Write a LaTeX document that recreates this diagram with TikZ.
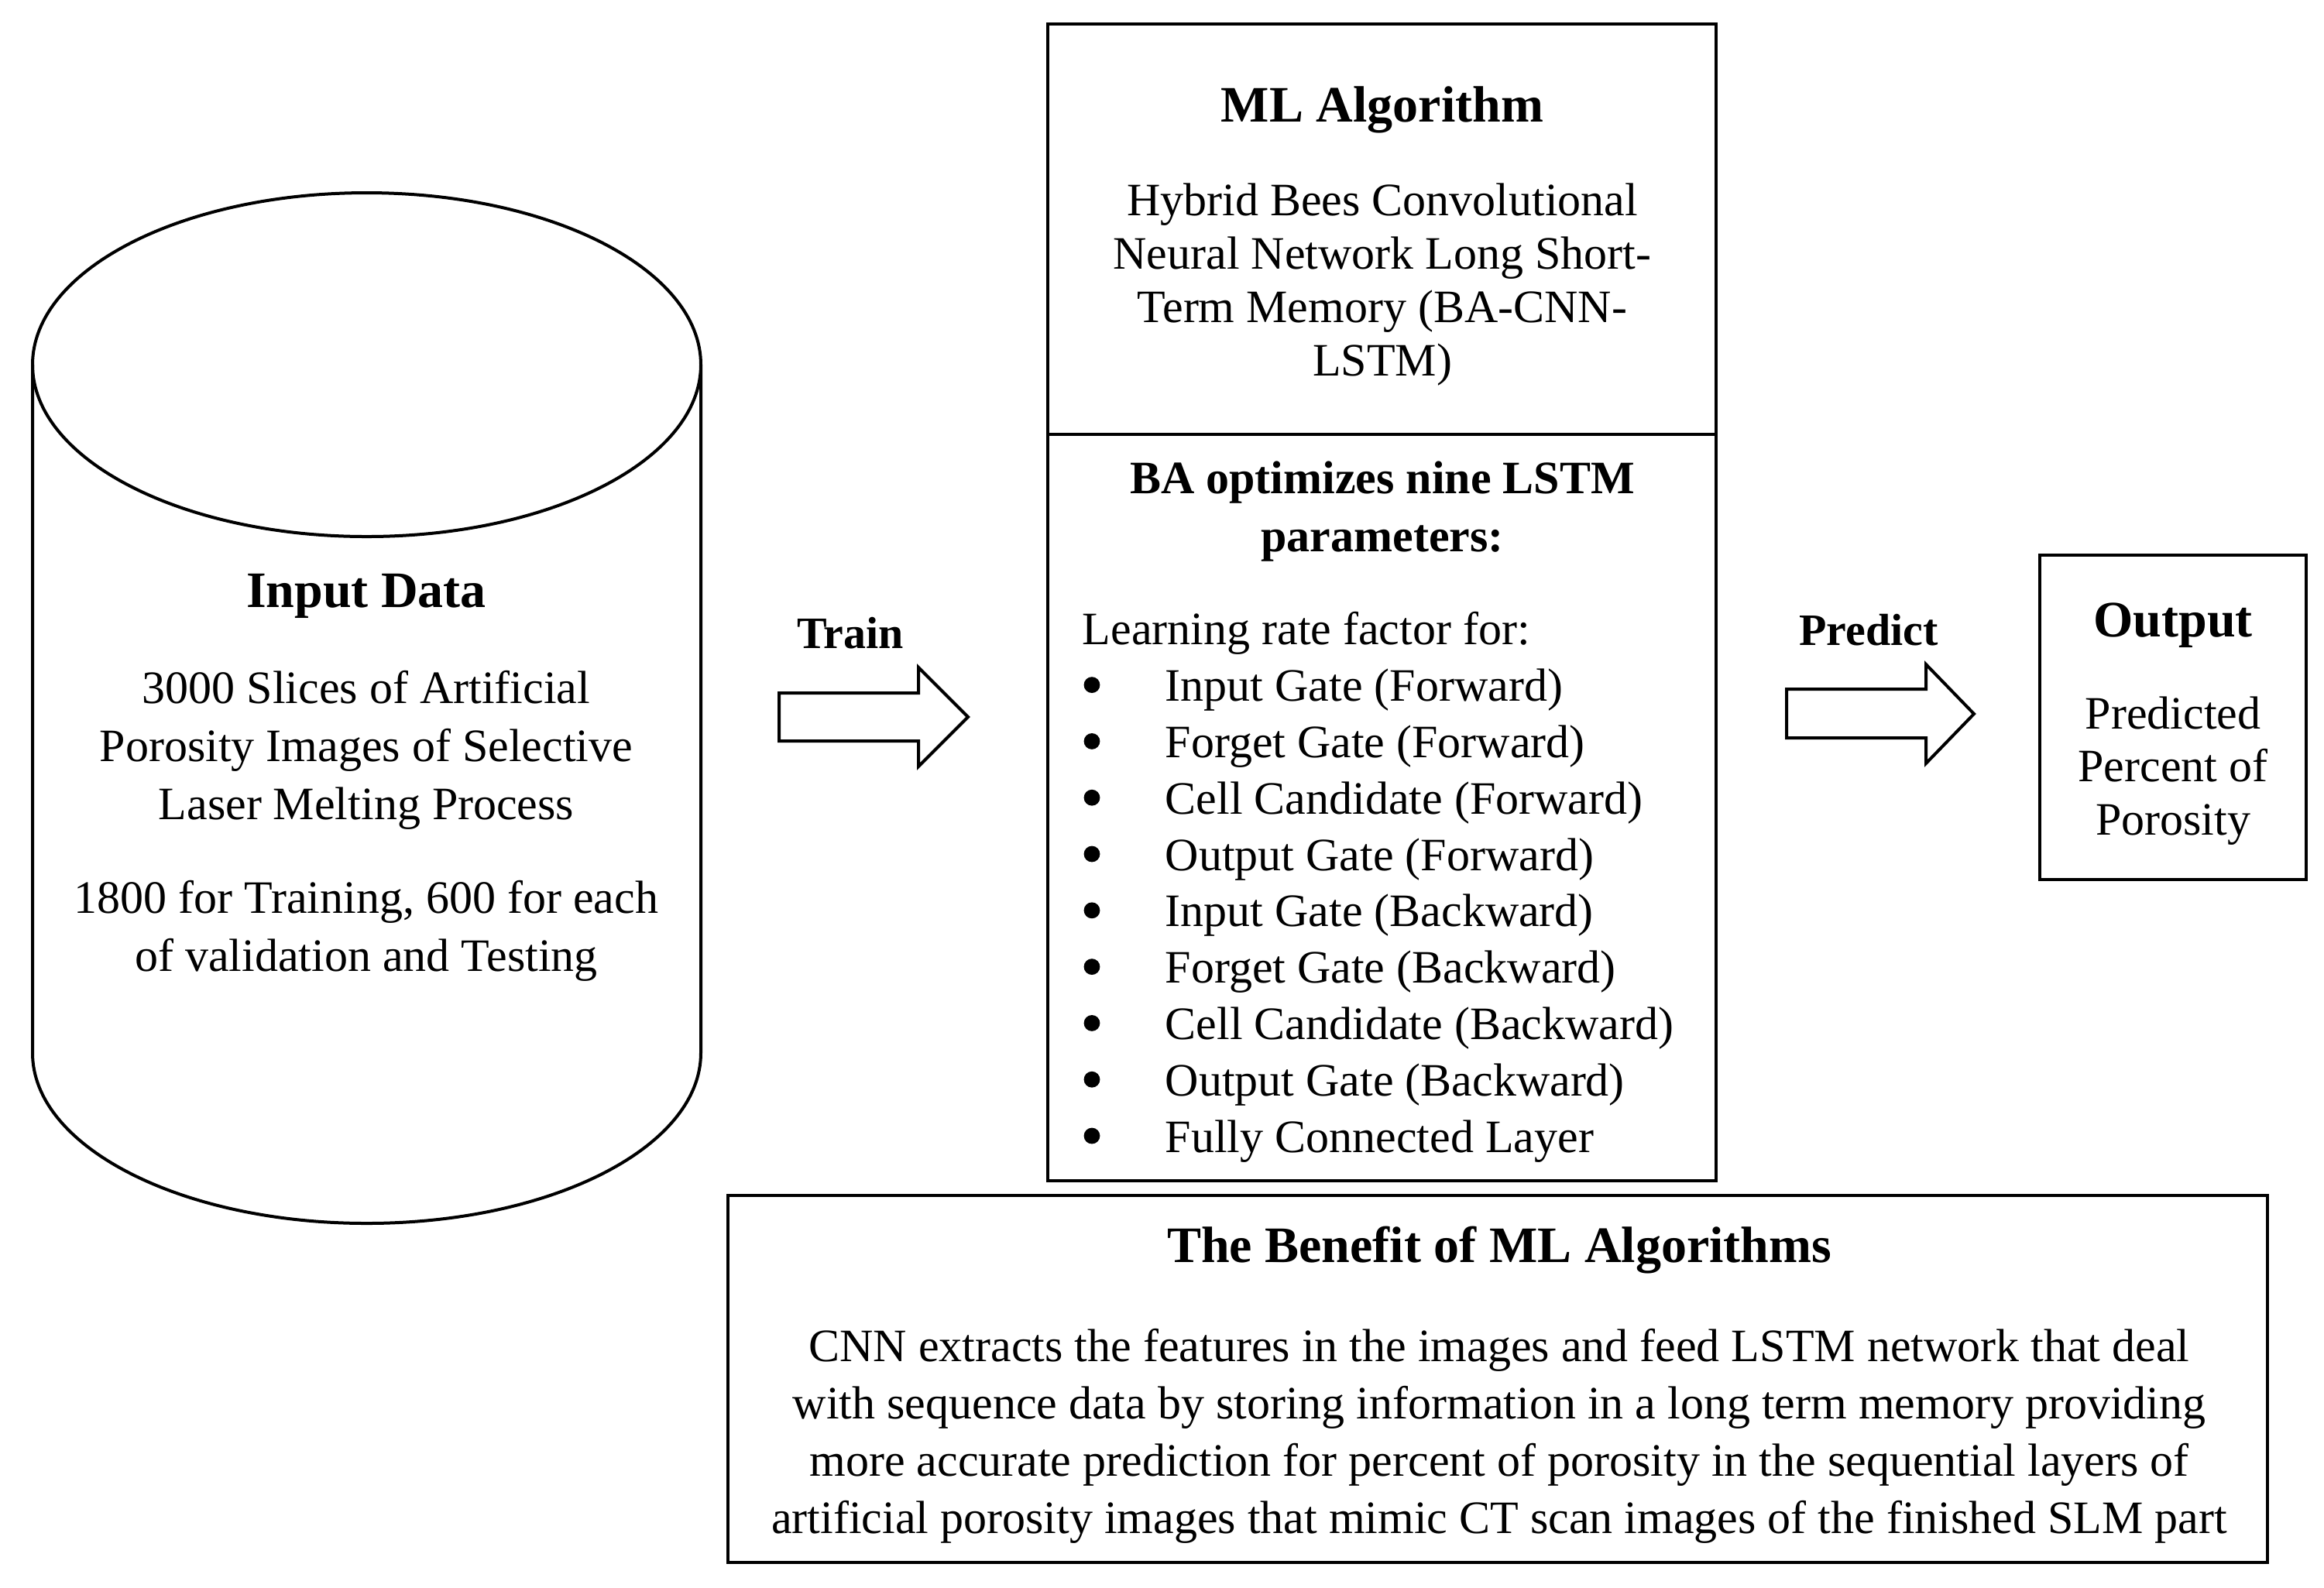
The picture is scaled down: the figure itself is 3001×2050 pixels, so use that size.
\documentclass[tikz,border=0pt]{standalone}
\usepackage{fontspec}
\setmainfont{Liberation Serif}
\newcommand{\bul}{\hspace*{26.75pt}}
\begin{document}
\begin{tikzpicture}[x=0.25pt,y=-0.25pt,
  box/.style={draw, line width=1pt, inner sep=0pt, outer sep=0pt},
  shapeline/.style={line width=1pt, line join=miter},
  dot/.style={fill=black},
  head/.style={font=\fontsize{16.5}{20}\selectfont\bfseries, inner sep=0pt, anchor=base},
  lbl/.style={font=\fontsize{14.5}{17}\selectfont\bfseries, inner sep=0pt, anchor=base},
  txt/.style={inner sep=0pt, anchor=base, align=center}
]
\useasboundingbox (0,0) rectangle (3001,2050);

% cylinder (input data store)
\draw[shapeline] (473.5,471) ellipse [x radius=107.875pt, y radius=55.5pt];
\draw[shapeline] (42,471) -- (42,1360) arc[start angle=180, end angle=360, x radius=107.875pt, y radius=55pt] -- (905,471);

% boxes
\node[box, anchor=north west, minimum width=215.75pt, minimum height=132.5pt] (mltop) at (1353,31) {};
\node[box, anchor=north west, minimum width=215.75pt, minimum height=241pt] (mlbot) at (1353,561) {};
\node[box, anchor=north west, minimum width=86pt, minimum height=104.75pt] (outbox) at (2634,717) {};
\node[box, anchor=north west, minimum width=497pt, minimum height=118.5pt] (benbox) at (940,1544) {};

% block arrows
\draw[shapeline] (1006,895) -- (1186,895) -- (1186,862) -- (1250,926) -- (1186,990) -- (1186,957) -- (1006,957) -- cycle;
\draw[shapeline] (2307,890) -- (2487,890) -- (2487,858) -- (2549,922) -- (2487,986) -- (2487,953) -- (2307,953) -- cycle;

% texts (anchor base = baseline of the last line)
\node[head] (inhead) at (473,784) {Input Data};
\node[txt, font=\fontsize{15}{18.75}\selectfont] (intext) at (473,1058) {3000 Slices of Artificial\\Porosity Images of Selective\\Laser Melting Process};
\node[txt, font=\fontsize{15}{18.75}\selectfont] (insplit) at (473,1254) {1800 for Training, 600 for each\\of validation and Testing};

\node[lbl] (trainlbl) at (1098,837) {Train};
\node[lbl] (predlbl) at (2413,833) {Predict};

\node[head] (mlhead) at (1785,157) {ML Algorithm};
\node[txt, font=\fontsize{15}{17.25}\selectfont] (mltext) at (1785,485) {Hybrid Bees Convolutional\\Neural Network Long Short-\\Term Memory (BA-CNN-\\LSTM)};
\node[txt, font=\fontsize{15}{18.75}\selectfont\bfseries] (bahead) at (1785,712) {BA optimizes nine LSTM\\parameters:};
\node[inner sep=0pt, anchor=base west, align=left, font=\fontsize{15}{18.2}\selectfont] (balist) at (1397,1488) {Learning rate factor for:\\
\bul Input Gate (Forward)\\
\bul Forget Gate (Forward)\\
\bul Cell Candidate (Forward)\\
\bul Output Gate (Forward)\\
\bul Input Gate (Backward)\\
\bul Forget Gate (Backward)\\
\bul Cell Candidate (Backward)\\
\bul Output Gate (Backward)\\
\bul Fully Connected Layer};
% list bullets
\foreach \k in {0,...,8} {
  \fill[dot] (1410,{1467-\k*72.8}) circle [radius=2.6pt];
}

\node[head] (outhead) at (2806,822) {Output};
\node[txt, font=\fontsize{15}{17.1}\selectfont] (outtext) at (2806,1078) {Predicted\\Percent of\\Porosity};

\node[head] (benhead) at (1936,1630) {The Benefit of ML Algorithms};
\node[txt, font=\fontsize{15}{18.5}\selectfont] (bentext) at (1936,1980) {CNN extracts the features in the images and feed LSTM network that deal\\with sequence data by storing information in a long term memory providing\\more accurate prediction for percent of porosity in the sequential layers of\\artificial porosity images that mimic CT scan images of the finished SLM part};
\end{tikzpicture}
\end{document}
